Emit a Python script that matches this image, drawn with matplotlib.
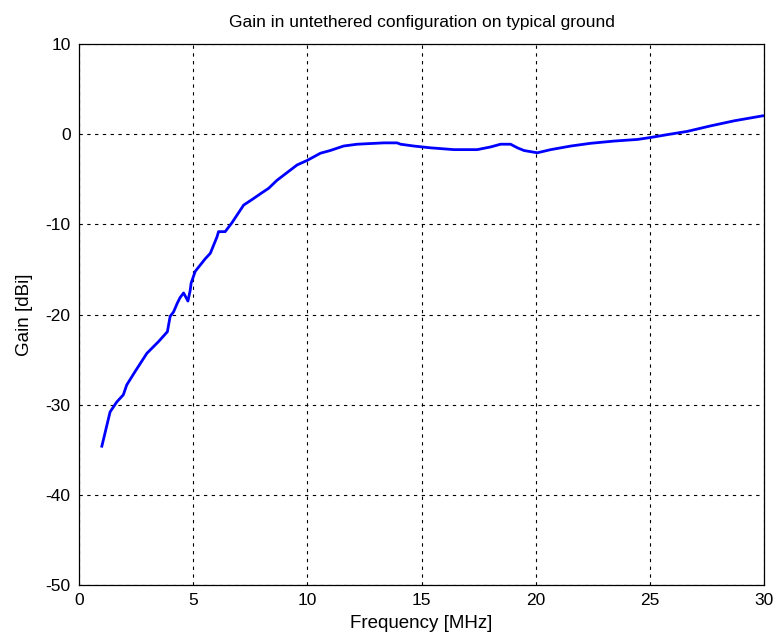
import matplotlib
matplotlib.use("Agg")
import matplotlib.pyplot as plt

plt.rcParams['font.family'] = ['Liberation Sans', 'DejaVu Sans']
plt.rcParams['axes.unicode_minus'] = False

freq = [1.0, 1.36, 1.65, 1.94, 2.09, 2.46, 2.97, 3.48, 3.87, 3.99, 4.14, 4.31,
        4.43, 4.58, 4.77, 4.87, 4.91, 5.09, 5.53, 5.75, 6.04, 6.11, 6.40, 6.70,
        7.21, 7.6, 8.0, 8.3, 8.67, 9.55, 9.99, 10.57, 11.0, 11.59, 12.18, 13.35,
        13.93, 14.08, 14.66, 15.39, 16.42, 17.44, 18.03, 18.46, 18.9, 19.2,
        19.49, 20.07, 20.66, 21.54, 22.4, 23.43, 24.46, 25.04, 25.78, 26.65,
        27.67, 28.7, 29.94]
gain = [-34.6, -30.8, -29.7, -28.9, -27.8, -26.3, -24.3, -23.0, -21.9, -20.2,
        -19.7, -18.7, -18.1, -17.6, -18.5, -17.3, -16.5, -15.2, -13.8, -13.2,
        -11.4, -10.8, -10.8, -9.8, -7.85, -7.2, -6.5, -6.0, -5.1, -3.4, -2.9,
        -2.1, -1.8, -1.3, -1.1, -0.95, -0.95, -1.1, -1.3, -1.5, -1.7, -1.7,
        -1.4, -1.1, -1.1, -1.5, -1.8, -2.05, -1.7, -1.3, -1.0, -0.75, -0.57,
        -0.35, -0.03, 0.33, 0.94, 1.5, 2.05]

xticks = [0, 5, 10, 15, 20, 25, 30]
yticks = [-50, -40, -30, -20, -10, 0, 10]

fig = plt.figure(figsize=(7.77, 6.4), dpi=100)
ax = fig.add_axes([0.1017, 0.0859, 0.8816, 0.8451])

ax.plot(freq, gain, color='#0000ff', linewidth=2)

ax.set_xlim(0, 30)
ax.set_ylim(-50, 10)
ax.set_xticks(xticks)
ax.set_yticks(yticks)
ax.grid(True, color='black', linestyle=(0, (3, 4)), linewidth=0.8)
ax.tick_params(direction='in', length=0, labelsize=12.5)
ax.tick_params(axis='x', pad=6)
ax.tick_params(axis='y', pad=6)
for s in ax.spines.values():
    s.set_linewidth(0.9)

ax.set_title('Gain in untethered configuration on typical ground', fontsize=12.5, pad=12)
ax.set_xlabel('Frequency [MHz]', fontsize=13.5, labelpad=5)
ax.set_ylabel('Gain [dBi]', fontsize=13.5, labelpad=9)

fig.savefig('out.png', dpi=100)
